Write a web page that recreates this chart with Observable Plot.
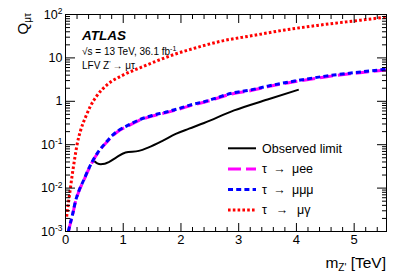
<!DOCTYPE html>
<html><head><meta charset="utf-8">
<script src="https://cdn.jsdelivr.net/npm/d3@7"></script>
<script src="https://cdn.jsdelivr.net/npm/@observablehq/plot@0.6"></script>
<style>html,body{margin:0;padding:0;background:#fff}</style>
</head><body><div id="chart"></div>
<script>
// Observed limit
const massObs = [0.49, 0.55, 0.61, 0.68, 0.75, 0.87, 1.04, 1.27, 1.44, 1.68, 1.91, 2.14, 2.40, 2.92, 3.5, 4.04];
const qObs    = [0.0427, 0.0372, 0.0355, 0.0363, 0.0398, 0.050, 0.066, 0.072, 0.087, 0.123, 0.178, 0.234, 0.316, 0.617, 1.10, 1.86];
// tau -> mu e e  and  tau -> mu mu mu
const mass3l  = [0.05, 0.08, 0.12, 0.17, 0.23, 0.32, 0.38, 0.46, 0.6, 0.7, 0.8, 0.92, 1.07, 1.27, 1.5, 1.73, 1.96, 2.2, 2.4, 2.92, 3.2, 3.5, 4.07, 4.5, 5.0, 5.56];
const qMuee   = [0.001, 0.00145, 0.0023, 0.0047, 0.0083, 0.0155, 0.0235, 0.039, 0.076, 0.109, 0.153, 0.207, 0.265, 0.36, 0.455, 0.54, 0.655, 0.82, 0.95, 1.52, 1.75, 2.17, 2.97, 3.65, 4.4, 5.3];
const qMumumu = [0.001, 0.0015, 0.0024, 0.0048, 0.0085, 0.0158, 0.024, 0.040, 0.078, 0.112, 0.158, 0.214, 0.275, 0.37, 0.47, 0.56, 0.68, 0.85, 0.98, 1.58, 1.82, 2.24, 3.09, 3.8, 4.57, 5.5];
// tau -> mu gamma
const massMuGamma = [0.02, 0.03, 0.057, 0.087, 0.116, 0.144, 0.173, 0.2, 0.26, 0.35, 0.43, 0.55, 0.72, 1.01, 1.3, 1.59, 1.88, 2.17, 2.74, 3.2, 3.8, 4.36, 5.0, 5.56];
const qMuGamma    = [0.0022, 0.0028, 0.0052, 0.0105, 0.020, 0.0355, 0.062, 0.10, 0.21, 0.44, 0.76, 1.38, 2.4, 4.1, 6.0, 8.6, 12.0, 15.8, 25, 32, 44, 56, 71, 87];

const xMajorTicks = [0, 1, 2, 3, 4, 5];
const xTickLabels = ["0", "1", "2", "3", "4", "5"];
const yMajorTicks = [1e-3, 1e-2, 1e-1, 1, 10, 100];
const yTickLabels = ["10^-3", "10^-2", "10^-1", "1", "10", "10^2"];
const legendLabels = ["Observed limit", "τ\u2002→\u2002μee", "τ\u2002→\u2002μμμ", "τ\u2002\u2009→\u2002\u2009μγ"];
const legendColors = ["#000000", "#ff00ff", "#0000ff", "#ff0000"];
const legendDash = [null, "13,5", "5,3.2", "2.6,2.2"];
const legendWidth = [2, 3, 3, 3];

const xMax = 5.56;
const xMinor = d3.range(0, 56).map(i => i * 0.2).filter(v => v <= xMax && Math.abs(v - Math.round(v)) > 1e-6);
const yMinor = [];
for (let e = -3; e < 2; e++) for (let k = 2; k <= 9; k++) yMinor.push(k * Math.pow(10, e));

const toRows = (xs, ys) => xs.map((m, i) => ({m, q: ys[i]}));
const blank = () => "";
const lineOpts = i => ({x: "m", y: "q", stroke: legendColors[i], strokeWidth: legendWidth[i],
  strokeDasharray: legendDash[i] || undefined, strokeLinecap: "butt", strokeLinejoin: "miter",
  curve: "monotone-x", clip: true});

const chart = Plot.plot({
  width: 407, height: 276,
  marginLeft: 65, marginRight: 21, marginTop: 14, marginBottom: 45,
  style: {fontFamily: "'Liberation Sans', Arial, sans-serif", fontSize: "12.5px", background: "white", color: "black"},
  x: {domain: [0, xMax], label: null},
  y: {type: "log", domain: [1e-3, 1e2], label: null},
  marks: [
    Plot.line(toRows(massObs, qObs), lineOpts(0)),
    Plot.line(toRows(mass3l, qMuee), lineOpts(1)),
    Plot.line(toRows(mass3l, qMumumu), lineOpts(2)),
    Plot.line(toRows(massMuGamma, qMuGamma), lineOpts(3)),
    Plot.frame({stroke: "black", strokeWidth: 1}),
    Plot.axisX({ticks: xMajorTicks, tickSize: -8, tickPadding: 11, tickFormat: d => xTickLabels[xMajorTicks.indexOf(d)], label: null, fontSize: 13}),
    Plot.axisX({ticks: xMinor, tickSize: -4, tickFormat: blank, label: null}),
    Plot.axisX({anchor: "top", ticks: xMajorTicks, tickSize: -8, tickFormat: blank, label: null}),
    Plot.axisX({anchor: "top", ticks: xMinor, tickSize: -4, tickFormat: blank, label: null}),
    Plot.axisY({ticks: yMajorTicks, tickSize: -10, tickPadding: 13, tickFormat: d => yTickLabels[yMajorTicks.indexOf(d)], label: null, fontSize: 12.5}),
    Plot.axisY({ticks: yMinor, tickSize: -5, tickFormat: blank, label: null}),
    Plot.axisY({anchor: "right", ticks: yMajorTicks, tickSize: -10, tickFormat: blank, label: null}),
    Plot.axisY({anchor: "right", ticks: yMinor, tickSize: -5, tickFormat: blank, label: null})
  ]
});
document.getElementById("chart").appendChild(chart);

const svg = d3.select(chart);
// superscripts in y tick labels
svg.selectAll('g[aria-label="y-axis tick label"] text').each(function() {
  const s = this.textContent;
  if (s.includes("^")) {
    const [b, e] = s.split("^");
    const t = d3.select(this);
    t.text(null);
    t.append("tspan").text(b);
    t.append("tspan").attr("dy", "-0.5em").attr("font-size", "8.5px").text(e);
  }
});

const ff = "'Liberation Sans', Arial, sans-serif";
const txt = (x, y, size, anchor = "start") => svg.append("text").attr("x", x).attr("y", y)
  .attr("text-anchor", anchor).attr("font-family", ff).attr("font-size", size).attr("fill", "black");
// y title
const yt = svg.append("text").attr("transform", "translate(28,13) rotate(-90)")
  .attr("text-anchor", "end").attr("font-family", ff).attr("font-size", 15).attr("fill", "black");
yt.append("tspan").text("Q");
yt.append("tspan").attr("dy", 3).attr("font-size", 10).text("μτ");
// x title
const xt = txt(386, 268, 15.5, "end");
xt.append("tspan").text("m");
xt.append("tspan").attr("dy", 3).attr("font-size", 10).text("Z'");
xt.append("tspan").attr("dy", -3).text(" [TeV]");

// ATLAS labels
txt(82, 40, 13.5).attr("font-weight", "bold").attr("font-style", "italic").text("ATLAS");
const l2 = txt(82, 55, 10);
l2.append("tspan").text("√s = 13 TeV, 36.1 fb");
l2.append("tspan").attr("dy", -4).attr("font-size", 7).text("-1");
const l3 = txt(82, 69, 10);
l3.append("tspan").text("LFV Z");
l3.append("tspan").attr("dy", -3).attr("font-size", 7).text("'");
l3.append("tspan").attr("dy", 3).text("\u2009→ μτ");

// legend
legendLabels.forEach((lab, i) => {
  const y = 148.3 + i * 20.6;
  const ln = svg.append("line").attr("x1", 228).attr("x2", 256).attr("y1", y).attr("y2", y)
    .attr("stroke", legendColors[i]).attr("stroke-width", legendWidth[i]);
  if (legendDash[i]) ln.attr("stroke-dasharray", legendDash[i]);
  txt(262, y, 12.5).attr("dy", "0.35em").text(lab);
});
</script>
</body></html>
